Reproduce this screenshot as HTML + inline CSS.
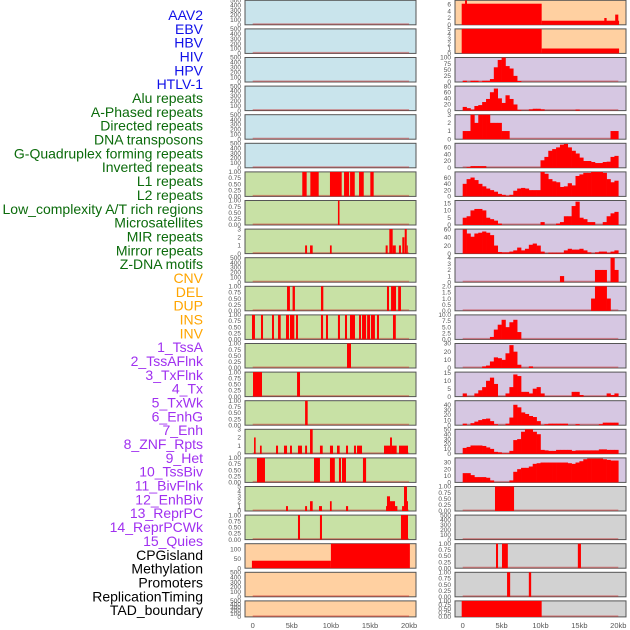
<!DOCTYPE html>
<html><head><meta charset="utf-8"><style>
html,body{margin:0;padding:0;background:#fff;}
svg{display:block;font-family:"Liberation Sans",sans-serif;}
</style></head><body>
<svg id="chart" width="630" height="630" viewBox="0 0 630 630" xmlns="http://www.w3.org/2000/svg"></svg>
<script>
const labelNames = ["AAV2","EBV","HBV","HIV","HPV","HTLV-1","Alu repeats","A-Phased repeats","Directed repeats","DNA transposons","G-Quadruplex forming repeats","Inverted repeats","L1 repeats","L2 repeats","Low_complexity A/T rich regions","Microsatellites","MIR repeats","Mirror repeats","Z-DNA motifs","CNV","DEL","DUP","INS","INV","1_TssA","2_TssAFlnk","3_TxFlnk","4_Tx","5_TxWk","6_EnhG","7_Enh","8_ZNF_Rpts","9_Het","10_TssBiv","11_BivFlnk","12_EnhBiv","13_ReprPC","14_ReprPCWk","15_Quies","CPGisland","Methylation","Promoters","ReplicationTiming","TAD_boundary"];
const labelGroups = ["v","v","v","v","v","v","r","r","r","r","r","r","r","r","r","r","r","r","r","s","s","s","s","s","c","c","c","c","c","c","c","c","c","c","c","c","c","c","c","o","o","o","o","o"];
const xTickValues = [0,5,10,15,20];
const xTickLabels = ["0","5kb","10kb","15kb","20kb"];

// segment data [startKb, endKb, value]
const aluSegs = [[6.34,6.9,1],[7.37,8.44,1],[9.88,11.38,1],[11.68,12.33,1],[12.45,13.05,1],[13.6,14.2,1],[15.04,15.47,1]];
const aphasedSegs = [[10.9,11.1,1]];
const directedSegs = [[6.7,6.95,1],[7.33,7.67,1],[9.88,10.1,1],[17.0,17.26,1],[17.47,17.9,3],[17.9,18.3,1],[18.7,18.96,1],[19.13,19.4,2],[19.44,19.7,3],[19.7,19.8,1]];
const gquadSegs = [[4.39,4.76,1],[5.1,5.4,1],[8.73,9.03,1],[17.17,17.43,1],[17.69,18.33,1],[18.6,18.96,1]];
const invertedSegs = [[-0.09,0.29,1],[1.06,1.32,1],[2.47,2.72,1],[3.24,3.58,1],[4.26,4.64,1],[4.77,5.32,1],[5.54,5.79,1],[8.73,9.0,1],[9.37,9.63,1],[10.9,11.16,1],[11.8,12.06,1],[12.44,13.08,1],[13.6,13.85,1],[13.98,14.5,1],[14.63,15.0,1],[15.12,15.63,1],[15.89,16.15,1],[17.94,18.3,1]];
const l1Segs = [[12.06,12.57,1]];
const l2Segs = [[0.04,1.19,1],[5.67,6.05,1]];
const lowcSegs = [[6.7,7.03,1]];
const microSegs = [[0.17,0.38,2],[0.93,1.15,1],[2.98,3.24,1],[4.0,4.39,1],[4.77,5.02,1],[5.79,6.3,1],[6.7,6.95,1],[7.33,7.67,3],[8.6,8.95,1],[9.88,10.27,1],[10.78,11.12,1],[11.93,12.19,1],[12.95,13.21,1],[13.34,13.98,1],[16.79,17.56,1],[17.56,17.81,2],[17.81,18.41,1],[18.71,19.86,1]];
const mirSegs = [[0.55,1.57,1],[7.84,8.6,1],[9.88,10.5,1],[11.03,11.29,1],[11.42,11.93,1],[14.1,14.5,1]];
const mirrorSegs = [[4.26,4.51,1],[6.7,6.95,1],[7.33,7.67,2],[8.48,8.86,1],[9.88,10.1,2],[11.93,12.2,1],[17.05,17.17,1],[17.17,17.56,3],[17.56,17.94,2],[17.94,18.2,2],[18.2,18.5,1],[19.1,19.35,1],[19.35,19.73,5],[19.73,19.85,2]];
const zdnaSegs = [[5.79,6.05,1],[8.6,8.86,1],[18.96,19.86,1]];
const cnvSegs = [[-0.1,10.0,40],[10.0,20.1,135]];
const insSegs = [[-0.13,10.15,6.2],[0.3,0.55,7.2],[10.15,20.1,1.2],[18.2,18.5,2],[19.6,20.0,3]];
const invSegs = [[-0.13,10.15,5],[10.15,20.1,1]];
const cpgSegs = [[4.15,6.6,1]];
const promoterSegs = [[4.28,4.54,1],[5.05,5.8,1],[14.8,15.2,1]];
const repliSegs = [[5.7,6.1,1],[8.5,8.8,1]];
const tadSegs = [[-0.13,10.15,1]];

// binned data, 0.5kb bins from 0 to 20kb
const tssaBins = [5,0,5,5,2,5,5,12,60,90,100,65,55,25,4,0,0,0,0,0,0,0,0,0,0,0,0,0,0,0,0,0,0,0,0,0,0,0,0,0];
const tssaflnkBins = [12,8,3,15,18,28,38,60,72,40,25,50,38,20,2,0,0,4,6,6,4,0,0,0,0,0,0,0,0,3,0,0,0,0,0,0,0,0,0,0];
const txflnkBins = [1,1,3,2,3,3,3,2,2,2,1,1,0,0,0,0,0,0,0,0,0,0,0,0,0,0,0,0,0,0,0,0,0,0,0,0,0,0,1,1];
const txBins = [0,2,5,5,5,5,0,0,0,0,0,0,0,0,0,0,0,0,0,0,22,32,50,55,60,68,70,60,50,42,30,20,20,17,14,14,17,18,32,35];
const txwkBins = [40,55,60,52,40,32,25,20,15,8,5,2,5,18,25,27,25,20,20,20,78,72,55,48,45,30,32,42,35,65,70,75,75,78,78,78,75,55,45,50];
const enhgBins = [5,6,10,11,11,10,5,4,3,1,0,0,0,0,0,0,0,0,0,0,2,0,0,0,1,2,6,6,13,16,5,4,2,2,0,0,2,6,8,9];
const enhBins = [60,50,42,50,52,55,52,46,20,4,3,3,5,8,15,8,12,22,25,20,5,0,2,2,2,2,8,12,10,10,12,8,3,0,3,5,5,2,5,8];
const znfBins = [0,0,0,0,0,0,0,0,0,0,0,0,0,0,0,0,0,0,0,0,0,0,0,0,0,1,0,0,0,0,0,0,0,0,2,2,2,0,4,2];
const hetBins = [0,0,0,0,0,0,0,0,0,0,0,0,0,0,0,0,0,0,0,0,0,0,0,0,0,0,0,0,0,0,0,0,0,1,2,2,2,1,0,0];
const tssbivBins = [0,0,0,0,0,0,0,1,4,6,8,5,7,8,3,0,0,0,0,0,0,0,0,0,0,0,0,0,0,0,0,0,0,0,0,0,0,0,0,0];
const bivflnkBins = [0,0,0,0,0,2,3,8,13,12,10,18,28,20,4,0,0,2,0,0,0,0,0,0,0,0,0,0,0,0,0,0,0,0,0,0,0,0,0,0];
const enhbivBins = [2,0,0,2,4,6,10,12,8,0,0,2,6,14,13,3,3,2,5,6,2,0,0,0,0,0,0,0,3,3,1,0,0,0,0,0,0,2,1,2];
const reprpcBins = [3,0,4,7,10,12,13,8,2,0,0,3,15,40,35,25,22,18,16,8,0,2,3,3,3,3,3,0,0,2,0,0,0,0,0,2,5,5,5,5];
const reprpcwkBins = [12,14,17,17,17,16,13,10,4,3,1,1,6,28,30,45,50,50,45,40,8,7,6,6,8,8,8,8,6,7,7,7,7,7,7,9,9,8,8,8];
const quiesBins = [14,14,11,8,8,8,7,3,0,0,0,0,3,16,20,22,22,24,28,29,30,30,30,30,30,30,30,29,28,30,32,35,36,36,36,36,35,34,33,33];

// tick label sets
const ticks500 = [0,100,200,300,400,500];
const ticksUnit = [0,0.25,0.5,0.75,1];
const ticksUnitLabels = ["0.00","0.25","0.50","0.75","1.00"];

const svg = document.getElementById('chart');
const NS = 'http://www.w3.org/2000/svg';
function mk(tag, attrs, parent){const e=document.createElementNS(NS,tag);for(const k in attrs)e.setAttribute(k,attrs[k]);(parent||svg).appendChild(e);return e;}

const colors = {v:'#c9e4ec', r:'#c8e1a5', s:'#ffd0a1', c:'#d6c7e2', o:'#d2d2d2'};
const labelColors = {v:'#1010e8', r:'#0b6b0b', s:'#ffa500', c:'#a030f0', o:'#000000'};

function panel(col,row,grp,max,ticks,tickLabels,segs,bins,name){
  const left = col===0?245:455, right = col===0?416:626;
  const x0 = col===0?252.7:462.7, kbw = col===0?7.82:7.78;
  const top = 0.3+28.6*row;
  const h = row===21?16:24.5;
  const bottom = top+h;
  const xs = kb => x0+kb*kbw;
  const ys = v => bottom - Math.min(v,max)/max*h;
  const g = mk('g',{});
  
  
  const bg = mk('rect',{x:left,y:top,width:right-left,height:h,fill:colors[grp],stroke:'#555',"stroke-width":1},g);
  
  
  const base = mk('rect',{x:xs(0),y:bottom-1.5,width:xs(20)-xs(0),height:1.5,fill:'rgba(200,40,40,0.45)'},g);
  
  
  if(segs){segs.forEach(s=>{
    const r = mk('rect',{x:xs(s[0]),y:ys(s[2]),width:Math.max(1,xs(s[1])-xs(s[0])),height:bottom-ys(s[2]),fill:'#ff0000'},g);
    
    
  });}
  if(bins){bins.forEach((v,i)=>{ if(v<=0) return;
    const r = mk('rect',{x:xs(i*0.5),y:ys(v),width:xs((i+1)*0.5)-xs(i*0.5)+0.3,height:bottom-ys(v),fill:'#ff0000'},g);
    
    
  });}
  ticks.forEach((t,i)=>{
    const y = ys(t);
    const tx = mk('text',{x:left-4,y:y+2.2,"text-anchor":"end","font-size":6.5,fill:'#555'},g);
    tx.textContent = tickLabels?tickLabels[i]:String(t);
    
    
  });
}

// labels
labelNames.forEach((n,i)=>{
  const t = mk('text',{x:203,y:15+13.84*i+5,"text-anchor":"end","font-size":14,fill:labelColors[labelGroups[i]]});
  t.textContent = n;
  
  
});

// left column
const empties = [0,1,2,3,4,5];
empties.forEach(r=>panel(0,r,'v',500,ticks500,null,null,null,labelNames[r].toLowerCase()));
panel(0,6,'r',1,ticksUnit,ticksUnitLabels,aluSegs,null,'alu');
panel(0,7,'r',1,ticksUnit,ticksUnitLabels,aphasedSegs,null,'a-phased');
panel(0,8,'r',3,[0,1,2,3],null,directedSegs,null,'directed');
panel(0,9,'r',500,ticks500,null,null,null,'dna-transposons');
panel(0,10,'r',1,ticksUnit,ticksUnitLabels,gquadSegs,null,'g-quadruplex');
panel(0,11,'r',1,ticksUnit,ticksUnitLabels,invertedSegs,null,'inverted');
panel(0,12,'r',1,ticksUnit,ticksUnitLabels,l1Segs,null,'l1');
panel(0,13,'r',1,ticksUnit,ticksUnitLabels,l2Segs,null,'l2');
panel(0,14,'r',1,ticksUnit,ticksUnitLabels,lowcSegs,null,'low-complexity');
panel(0,15,'r',3,[0,1,2,3],null,microSegs,null,'microsatellites');
panel(0,16,'r',1,ticksUnit,ticksUnitLabels,mirSegs,null,'mir');
panel(0,17,'r',5,[0,1,2,3,4,5],null,mirrorSegs,null,'mirror');
panel(0,18,'r',1,ticksUnit,ticksUnitLabels,zdnaSegs,null,'z-dna');
panel(0,19,'s',131,[0,50,100],null,cnvSegs,null,'cnv');
panel(0,20,'s',500,ticks500,null,null,null,'del');
panel(0,21,'s',500,ticks500,null,null,null,'dup');

// right column
panel(1,0,'s',7.2,[0,2,4,6],null,insSegs,null,'ins');
panel(1,1,'s',5,[0,1,2,3,4,5],null,invSegs,null,'inv');
panel(1,2,'c',100,[0,25,50,75,100],null,null,tssaBins,'tssa');
panel(1,3,'c',80,[0,20,40,60,80],null,null,tssaflnkBins,'tssaflnk');
panel(1,4,'c',3,[0,1,2,3],null,null,txflnkBins,'txflnk');
panel(1,5,'c',72,[0,20,40,60],null,null,txBins,'tx');
panel(1,6,'c',78,[0,20,40,60],null,null,txwkBins,'txwk');
panel(1,7,'c',16.8,[0,5,10,15],null,null,enhgBins,'enhg');
panel(1,8,'c',61,[0,20,40,60],null,null,enhBins,'enh');
panel(1,9,'c',4,[0,1,2,3,4],null,null,znfBins,'znf-rpts');
panel(1,10,'c',2,[0,0.5,1,1.5,2],["0.0","0.5","1.0","1.5","2.0"],null,hetBins,'het');
panel(1,11,'c',10,[0,2.5,5,7.5,10],["0.0","2.5","5.0","7.5","10.0"],null,tssbivBins,'tssbiv');
panel(1,12,'c',30,[0,10,20,30],null,null,bivflnkBins,'bivflnk');
panel(1,13,'c',15.5,[0,5,10,15],null,null,enhbivBins,'enhbiv');
panel(1,14,'c',48,[0,10,20,30,40],null,null,reprpcBins,'reprpc');
panel(1,15,'c',50,[0,10,20,30,40,50],null,null,reprpcwkBins,'reprpcwk');
panel(1,16,'c',37,[0,10,20,30],null,null,quiesBins,'quies');
panel(1,17,'o',1,ticksUnit,ticksUnitLabels,cpgSegs,null,'cpgisland');
panel(1,18,'o',500,ticks500,null,null,null,'methylation');
panel(1,19,'o',1,ticksUnit,ticksUnitLabels,promoterSegs,null,'promoters');
panel(1,20,'o',1,ticksUnit,ticksUnitLabels,repliSegs,null,'replication-timing');
panel(1,21,'o',1,ticksUnit,ticksUnitLabels,tadSegs,null,'tad-boundary');

// x axes
[[252.7,7.82],[462.7,7.78]].forEach((c,ci)=>{
  xTickValues.forEach((v,i)=>{
    const t = mk('text',{x:c[0]+v*c[1],y:628,"text-anchor":"middle","font-size":7.5,fill:'#555'});
    t.textContent = xTickLabels[i];
    
    
  });
});
</script>
</body></html>
